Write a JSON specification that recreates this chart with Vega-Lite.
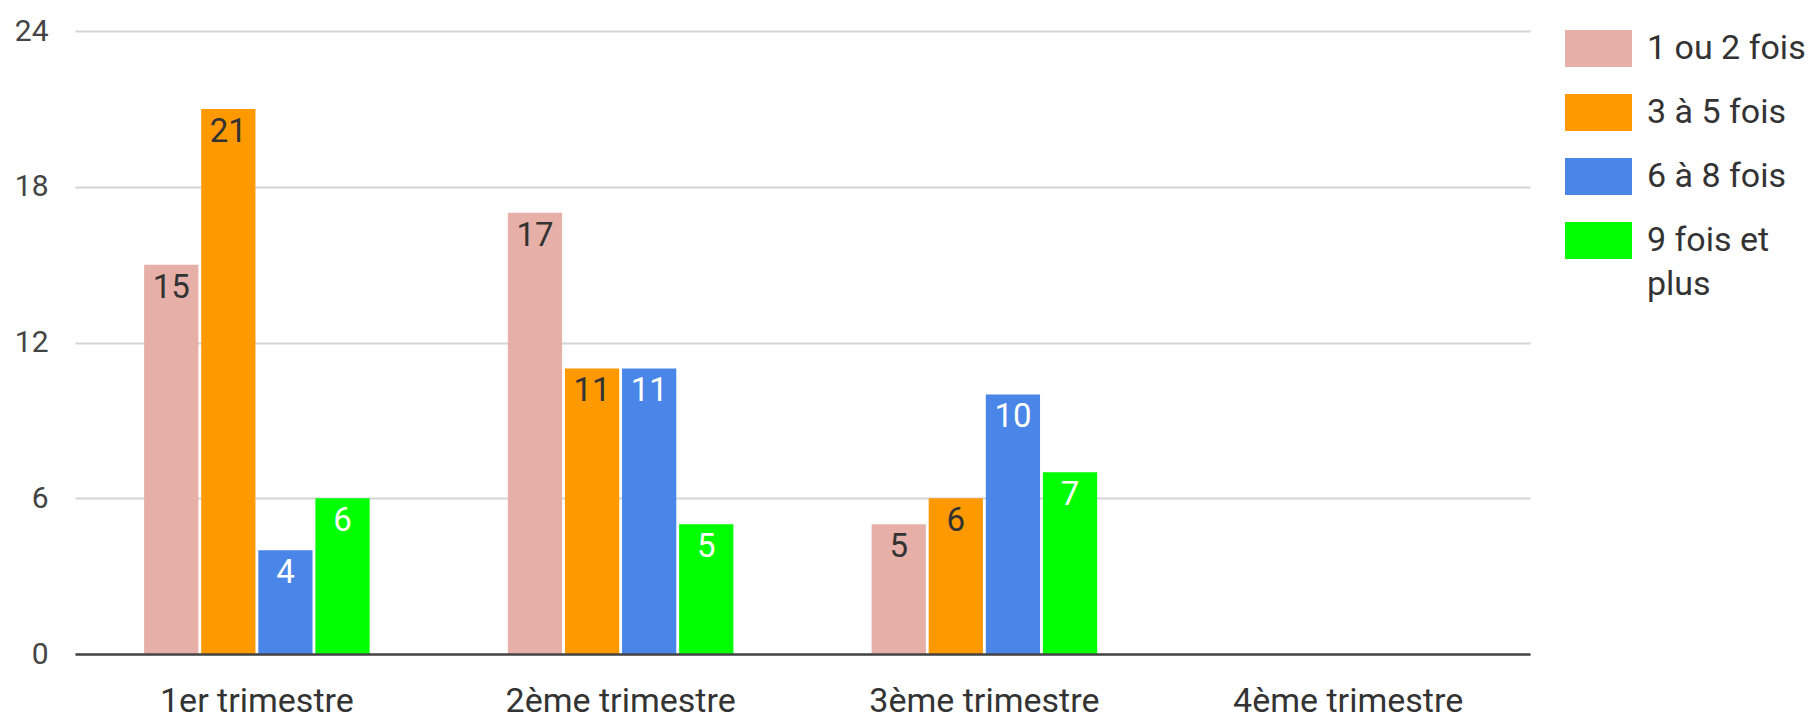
{
  "$schema": "https://vega.github.io/schema/vega-lite/v6.json",
  "width": 1455,
  "height": 623,
  "autosize": {"type": "none"},
  "padding": {"left": 75, "top": 31, "right": 281, "bottom": 64},
  "background": "white",
  "config": {
    "view": {"stroke": null},
    "font": "Roboto, Liberation Sans, sans-serif",
    "style": {"guide-label": {"lineHeight": 44}}
  },
  "data": {
    "values": [
      {"trimestre": "1er trimestre", "serie": "1 ou 2 fois", "valeur": 15},
      {"trimestre": "1er trimestre", "serie": "3 à 5 fois", "valeur": 21},
      {"trimestre": "1er trimestre", "serie": "6 à 8 fois", "valeur": 4},
      {"trimestre": "1er trimestre", "serie": "9 fois et plus", "valeur": 6},
      {"trimestre": "2ème trimestre", "serie": "1 ou 2 fois", "valeur": 17},
      {"trimestre": "2ème trimestre", "serie": "3 à 5 fois", "valeur": 11},
      {"trimestre": "2ème trimestre", "serie": "6 à 8 fois", "valeur": 11},
      {"trimestre": "2ème trimestre", "serie": "9 fois et plus", "valeur": 5},
      {"trimestre": "3ème trimestre", "serie": "1 ou 2 fois", "valeur": 5},
      {"trimestre": "3ème trimestre", "serie": "3 à 5 fois", "valeur": 6},
      {"trimestre": "3ème trimestre", "serie": "6 à 8 fois", "valeur": 10},
      {"trimestre": "3ème trimestre", "serie": "9 fois et plus", "valeur": 7}
    ]
  },
  "encoding": {
    "x": {
      "field": "trimestre",
      "type": "nominal",
      "scale": {
        "domain": ["1er trimestre", "2ème trimestre", "3ème trimestre", "4ème trimestre"],
        "paddingInner": 0.38,
        "paddingOuter": 0.19
      },
      "axis": {
        "title": null,
        "labelAngle": 0,
        "labelFontSize": 34,
        "labelColor": "#333333",
        "labelPadding": 30,
        "labelLimit": 0,
        "ticks": false,
        "domainColor": "#444444",
        "domainWidth": 2.5,
        "zindex": 1
      }
    },
    "xOffset": {
      "field": "serie",
      "type": "nominal",
      "scale": {"domain": ["1 ou 2 fois", "3 à 5 fois", "6 à 8 fois", "9 fois et plus"], "paddingInner": 0.05}
    },
    "y": {
      "field": "valeur",
      "type": "quantitative",
      "scale": {"domain": [0, 24], "nice": false},
      "axis": {
        "title": null,
        "values": [0, 6, 12, 18, 24],
        "labelFontSize": 30,
        "labelColor": "#444444",
        "labelPadding": 27,
        "ticks": false,
        "domain": false,
        "gridColor": "#d4d4d4",
        "gridWidth": 2
      }
    }
  },
  "layer": [
    {
      "mark": {"type": "bar"},
      "encoding": {
        "color": {
          "field": "serie",
          "type": "nominal",
          "scale": {
            "domain": ["1 ou 2 fois", "3 à 5 fois", "6 à 8 fois", "9 fois et plus"],
            "range": ["#e6b0a8", "#ff9900", "#4a86e8", "#00ff00"]
          },
          "legend": {
            "title": null,
            "orient": "none",
            "legendX": 1490,
            "legendY": -16,
            "symbolType": "M-1,-0.55H1V0.55H-1Z",
            "symbolSize": 4489,
            "symbolStrokeWidth": 0,
            "symbolOpacity": 1,
            "labelFontSize": 34,
            "labelColor": "#333333",
            "labelOffset": 15,
            "labelLimit": 400,
            "rowPadding": 12,
            "labelExpr": "datum.label == '9 fois et plus' ? ['9 fois et', 'plus'] : datum.label"
          }
        }
      }
    },
    {
      "mark": {"type": "text", "baseline": "top", "dy": 7, "fontSize": 33},
      "encoding": {
        "text": {"field": "valeur", "type": "quantitative"},
        "color": {
          "condition": {"test": "datum.serie == '6 à 8 fois' || datum.serie == '9 fois et plus'", "value": "white"},
          "value": "#333333"
        }
      }
    }
  ]
}
